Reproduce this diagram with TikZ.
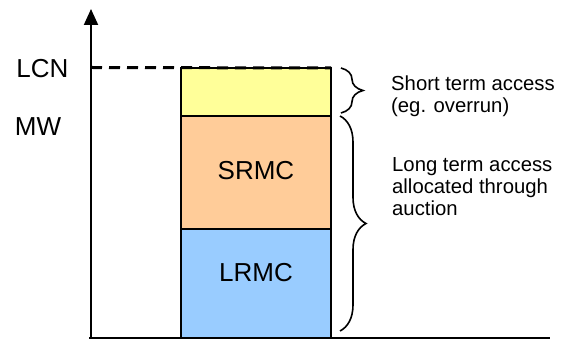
\documentclass[tikz,border=0pt]{standalone}
\usepackage{fontspec}
\setmainfont{Liberation Sans}
\usetikzlibrary{arrows.meta,decorations.pathreplacing}
\definecolor{cyel}{HTML}{FFFF99}
\definecolor{corg}{HTML}{FFCC99}
\definecolor{cblu}{HTML}{99CCFF}
\begin{document}
\begin{tikzpicture}[x=1pt,y=1pt,
  part/.style={draw=black,line width=2pt,minimum width=150pt,inner sep=0pt,outer sep=0pt},
  biglabel/.style={font=\fontsize{26}{30}\selectfont,inner sep=0pt},
  smalllabel/.style={font=\fontsize{20.3}{22}\selectfont,align=left,inner sep=0pt,anchor=north west},
  bracestyle/.style={line width=1.6pt,decorate,decoration={brace,amplitude=#1}},
  axis/.style={line width=2pt}]
\useasboundingbox (0,0) rectangle (571,340);
% axes
\coordinate (O) at (91,1.5);
\coordinate (Ytop) at (91,331);
\coordinate (Xend) at (550,1.5);
\coordinate (Xstart) at (89,1.5);
\draw[axis,-{Triangle[width=14pt,length=16pt]}] (O) -- (Ytop);
\draw[axis] (Xstart) -- (Xend);
% stacked box
\node[part,fill=cblu,minimum height=109.5pt] (lrmc) at (256,56.25) {};
\node[part,fill=corg,minimum height=112.5pt] (srmc) at (256,167.25) {};
\node[part,fill=cyel,minimum height=48.5pt] (st) at (256,247.75) {};
\node[biglabel] (lrmcT) at (256,67) {LRMC};
\node[biglabel] (srmcT) at (256,169) {SRMC};
% dashed LCN line
\coordinate (lcnL) at (91,272.5);
\draw[line width=3pt,dash pattern=on 11pt off 7pt] (lcnL) -- (st.north east);
% axis labels
\node[biglabel] (lcn) at (42.5,271) {LCN};
\node[biglabel] (mw) at (38,213) {MW};
% braces
\coordinate (b1a) at (341,272);
\coordinate (b1b) at (341,227);
\coordinate (b2a) at (340,224);
\coordinate (b2b) at (340,9);
\draw[bracestyle=22pt] (b1a) -- (b1b);
\draw[bracestyle=26pt] (b2a) -- (b2b);
% texts
\node[smalllabel] (short) at (391,264) {Short term access\\(eg. overrun)};
\node[smalllabel] (long) at (392,183) {Long term access\\allocated through\\auction};
\end{tikzpicture}
\end{document}
